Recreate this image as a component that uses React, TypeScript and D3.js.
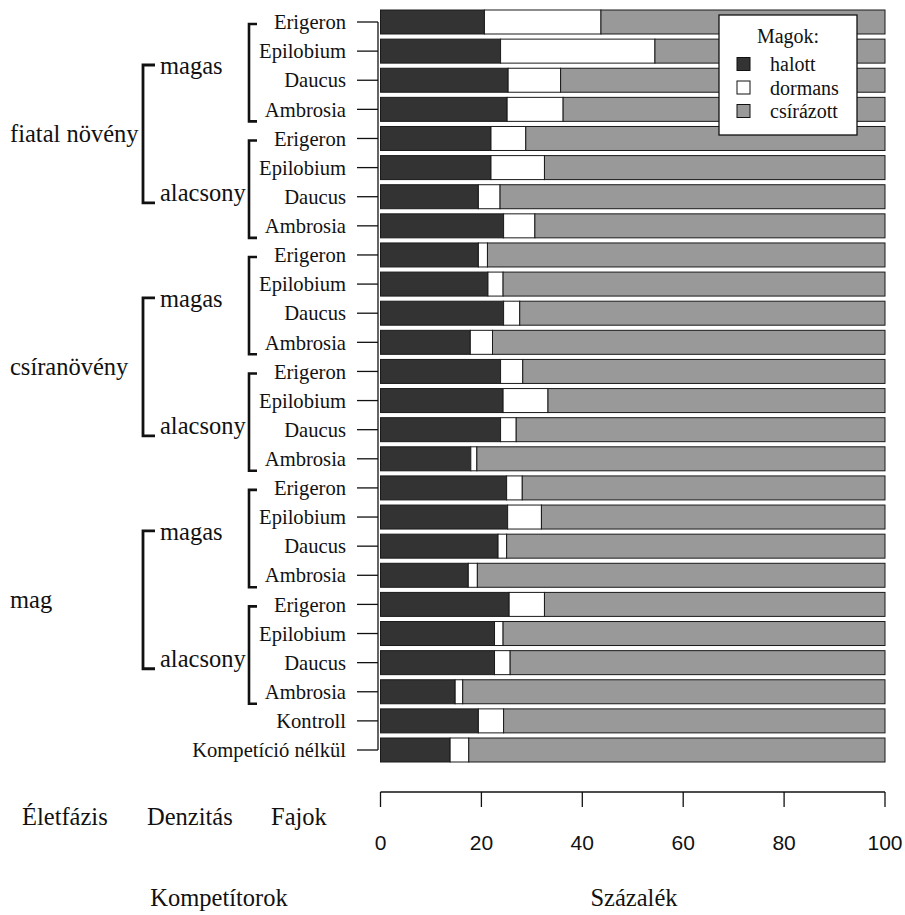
import React from "react";
import * as d3 from "d3";

// Grouping levels of the competition experiment
const lifeStages = ["fiatal növény", "csíranövény", "mag"];
const densities = ["magas", "alacsony"];
const species = ["Erigeron", "Epilobium", "Daucus", "Ambrosia"];
const controls = ["Kontroll", "Kompetíció nélkül"];

// Seed fate percentages per row (top to bottom)
const halott = [
  20.6, 23.8, 25.3, 25.1, 21.9, 21.9, 19.4, 24.4,
  19.4, 21.3, 24.4, 17.8, 23.8, 24.3, 23.8, 17.9,
  25.0, 25.2, 23.3, 17.4, 25.5, 22.6, 22.6, 14.8,
  19.4, 13.8,
];
const dormans = [
  23.1, 30.6, 10.4, 11.1, 6.9, 10.6, 4.3, 6.2,
  1.8, 3.0, 3.2, 4.4, 4.4, 8.9, 3.1, 1.2,
  3.1, 6.7, 1.7, 1.8, 7.0, 1.7, 3.1, 1.5,
  5.0, 3.7,
];
const csirazott = halott.map((h, i) => +(100 - h - dormans[i]).toFixed(1));

const legendTitle = "Magok:";
const legendLabels = ["halott", "dormans", "csírázott"];
const fills = ["#333333", "#ffffff", "#999999"];
const xTicks = [0, 20, 40, 60, 80, 100];

const rowLabels: string[] = [];
lifeStages.forEach(() => densities.forEach(() => species.forEach((s) => rowLabels.push(s))));
controls.forEach((c) => rowLabels.push(c));

const serif = "'Liberation Serif', 'Times New Roman', serif";
const sans = "'Liberation Sans', Arial, sans-serif";

export default function App() {
  const W = 905;
  const H = 915;
  const ids = rowLabels.map((_, i) => i);

  const x = d3.scaleLinear().domain([0, 100]).range([380.5, 885]);
  const y = d3
    .scaleBand<number>()
    .domain(ids)
    .range([7.44, 764.56])
    .paddingInner(0.176)
    .paddingOuter(0.088);
  const yc = (i: number) => (y(i) as number) + y.bandwidth() / 2;

  const stack = d3.stack<number>().keys(["0", "1", "2"]).value((i, k) => [halott, dormans, csirazott][+k][i]);
  const series = stack(ids);

  const axisX = 378;
  const spBracketX = 249;
  const denBracketX = 143;

  // species brackets: one per lifestage x density group
  const spGroups: { first: number; last: number }[] = [];
  const denGroups: { first: number; last: number; label: string }[] = [];
  lifeStages.forEach((ls, li) => {
    densities.forEach((_, di) => {
      const first = li * 8 + di * 4;
      spGroups.push({ first, last: first + 3 });
    });
    denGroups.push({ first: li * 8, last: li * 8 + 7, label: ls });
  });

  return (
    <svg
      width={W}
      height={H}
      style={{ position: "absolute", left: 0, top: 0, background: "#fff" }}
    >
      {/* stacked bars */}
      {series.map((s, si) => (
        <g key={si}>
          {s.map((d, i) => (
            <rect
              key={i}
              x={x(d[0])}
              y={y(i)}
              width={x(d[1]) - x(d[0])}
              height={y.bandwidth()}
              fill={fills[si]}
              stroke="#1a1a1a"
              strokeWidth={1}
            />
          ))}
        </g>
      ))}

      {/* left axis with row labels */}
      <line x1={axisX} x2={axisX} y1={yc(0)} y2={yc(ids.length - 1)} stroke="#111" strokeWidth={1.3} />
      {ids.map((i) => (
        <g key={i}>
          <line x1={357} x2={axisX} y1={yc(i)} y2={yc(i)} stroke="#111" strokeWidth={1.3} />
          <text
            x={346}
            y={yc(i)}
            dy="0.35em"
            textAnchor="end"
            fontFamily={serif}
            fontSize={20.6}
            fill="#111"
          >
            {rowLabels[i]}
          </text>
        </g>
      ))}

      {/* species brackets */}
      {spGroups.map((g, k) => {
        const t = yc(g.first) + 2;
        const b = yc(g.last) + 12;
        return (
          <path
            key={k}
            d={`M${spBracketX + 8},${t}H${spBracketX}V${b}H${spBracketX + 8}`}
            fill="none"
            stroke="#111"
            strokeWidth={2.6}
          />
        );
      })}

      {/* density brackets and lifestage labels */}
      {denGroups.map((g, k) => {
        const t = yc(g.first) + 43;
        const b = yc(g.last) - 23;
        return (
          <g key={k}>
            <path
              d={`M${denBracketX + 12},${t}H${denBracketX}V${b}H${denBracketX + 12}`}
              fill="none"
              stroke="#111"
              strokeWidth={2.8}
            />
            <text x={160} y={t + 9} fontFamily={serif} fontSize={24.5} fill="#111">
              {densities[0]}
            </text>
            <text x={160} y={b - 2} fontFamily={serif} fontSize={24.5} fill="#111">
              {densities[1]}
            </text>
            <text x={10} y={(t + b) / 2 + 8} fontFamily={serif} fontSize={24.5} fill="#111">
              {g.label}
            </text>
          </g>
        );
      })}

      {/* bottom axis */}
      <line x1={x(0)} x2={x(100)} y1={792} y2={792} stroke="#111" strokeWidth={1.3} />
      {xTicks.map((t) => (
        <g key={t}>
          <line x1={x(t)} x2={x(t)} y1={792} y2={807} stroke="#111" strokeWidth={1.3} />
          <text
            x={x(t)}
            y={850}
            textAnchor="middle"
            fontFamily={sans}
            fontSize={21}
            fill="#111"
          >
            {t}
          </text>
        </g>
      ))}

      {/* headers and titles */}
      <text x={22} y={825} fontFamily={serif} fontSize={24.5} fill="#111">Életfázis</text>
      <text x={147} y={825} fontFamily={serif} fontSize={24.5} fill="#111">Denzitás</text>
      <text x={271} y={825} fontFamily={serif} fontSize={24.5} fill="#111">Fajok</text>
      <text x={219} y={906} textAnchor="middle" fontFamily={serif} fontSize={24.5} fill="#111">
        Kompetítorok
      </text>
      <text x={634} y={906} textAnchor="middle" fontFamily={serif} fontSize={24.5} fill="#111">
        Százalék
      </text>

      {/* legend */}
      <g>
        <rect x={719} y={15} width={138} height={120} fill="#fff" stroke="#111" strokeWidth={1.3} />
        <text x={788} y={43} textAnchor="middle" fontFamily={serif} fontSize={20} fill="#111">
          {legendTitle}
        </text>
        {legendLabels.map((l, i) => {
          const cy = 64 + i * 23.5;
          return (
            <g key={l}>
              <rect x={737} y={cy - 6.5} width={13} height={13} fill={fills[i]} stroke="#111" strokeWidth={1} />
              <text x={770} y={cy} dy="0.35em" fontFamily={serif} fontSize={20} fill="#111">
                {l}
              </text>
            </g>
          );
        })}
      </g>
    </svg>
  );
}
